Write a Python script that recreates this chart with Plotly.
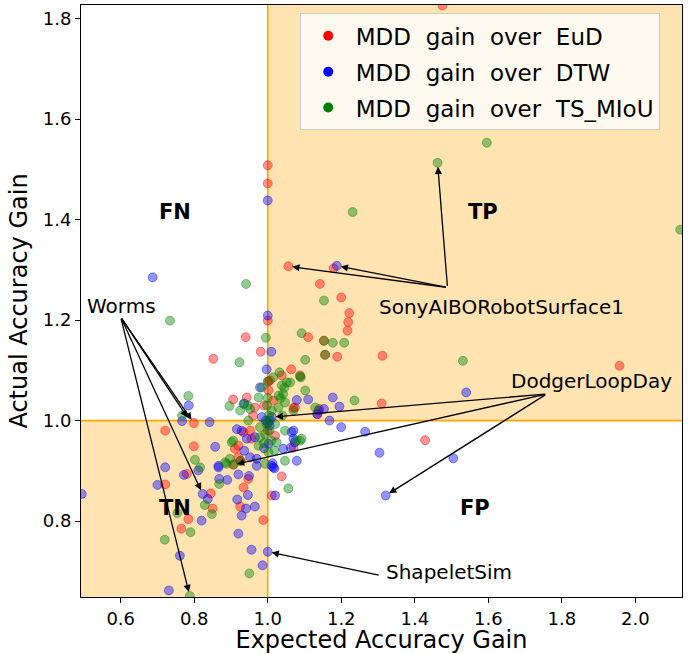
import plotly.graph_objects as go

# ---------------- data ----------------
eud_x = [1.475, 1.0, 1.0, 1.056, 1.179, 1.142, 1.2, 1.222, 1.219, 1.217, 1.110, 1.153, 1.156, 1.189,
         1.312, 1.957, 1.310, 1.140, 1.135, 1.428, 1.0, 0.940, 0.852, 0.981, 1.064, 1.002, 1.070, 0.906,
         0.943, 0.965, 0.960, 1.002, 1.006, 1.038, 1.088, 0.799, 0.721, 0.799, 0.780, 0.721, 0.845, 0.850,
         0.784, 0.765, 0.988, 0.925, 0.934, 0.947, 1.011, 1.038, 1.070, 0.952, 0.934, 0.956, 0.911, 0.920,
         0.926, 0.920, 1.074, 0.990, 1.015, 1.020, 1.000, 0.906]
eud_y = [1.826, 1.508, 1.472, 1.307, 1.303, 1.272, 1.245, 1.214, 1.196, 1.179, 1.166, 1.159, 1.131, 1.127,
         1.129, 1.109, 1.034, 1.023, 1.013, 0.961, 1.199, 1.166, 1.123, 1.137, 1.102, 1.078, 1.025, 1.042,
         1.046, 1.026, 1.010, 1.060, 1.080, 1.090, 1.090, 0.995, 0.980, 0.949, 0.894, 0.873, 0.855, 0.825,
         0.804, 0.785, 0.802, 0.829, 0.867, 0.884, 0.851, 0.889, 0.946, 0.980, 0.977, 0.964, 0.944, 0.927,
         0.920, 0.950, 1.026, 1.030, 1.040, 0.970, 0.980, 0.912]

dtw_x = [1.188, 1.0, 1.0, 0.687, 1.010, 0.997, 0.979, 1.110, 1.079, 1.177, 1.195, 1.153, 1.135, 1.138,
         1.168, 1.200, 1.265, 1.540, 1.304, 1.505, 1.321, 0.785, 0.767, 0.842, 0.857, 0.721, 0.772, 0.700,
         0.494, 0.811, 0.823, 0.837, 0.866, 0.868, 0.890, 0.920, 0.949, 0.946, 0.917, 0.941, 0.965, 0.929,
         0.820, 0.920, 0.956, 1.0, 0.986, 0.761, 0.731, 1.020, 1.015, 1.079, 1.065, 1.070, 1.063, 1.070,
         0.916, 0.929, 0.943, 0.936, 0.952, 0.970, 1.011, 0.970, 0.866, 0.984, 1.006, 0.965, 1.002, 1.042,
         0.990, 1.074, 0.936, 0.995, 1.000, 1.005, 1.011, 1.018, 1.013]
dtw_y = [1.308, 1.438, 1.209, 1.285, 1.137, 1.102, 1.066, 1.042, 1.041, 1.046, 1.028, 1.023, 1.013, 1.020,
         1.000, 0.987, 0.978, 1.056, 0.936, 0.925, 0.851, 1.030, 0.999, 0.997, 0.948, 0.907, 0.892, 0.872,
         0.854, 0.901, 0.854, 0.844, 0.907, 0.884, 0.882, 0.893, 0.890, 0.852, 0.843, 0.825, 0.829, 0.811,
         0.801, 0.775, 0.743, 0.739, 0.712, 0.731, 0.662, 0.851, 0.907, 0.920, 0.977, 0.964, 0.946, 0.980,
         0.983, 0.980, 0.964, 0.940, 0.927, 0.924, 0.910, 0.910, 0.910, 1.007, 1.000, 0.967, 0.954, 0.944,
         0.945, 0.957, 1.034, 1.000, 0.995, 0.990, 1.007, 0.905, 0.915]

tsm_x = [1.462, 1.596, 1.231, 2.122, 0.941, 1.153, 0.734, 1.092, 1.153, 1.177, 1.208, 1.156, 1.102, 1.531,
         1.090, 1.102, 1.236, 0.995, 0.923, 1.032, 1.088, 1.052, 1.0, 0.784, 0.767, 0.896, 0.946, 0.802,
         0.816, 0.829, 0.848, 0.868, 0.790, 0.720, 0.754, 0.788, 0.950, 1.056, 1.047, 1.088, 0.888, 0.975,
         0.984, 1.015, 1.061, 1.038, 1.042, 1.047, 1.029, 1.011, 0.997, 0.979, 0.993, 1.020, 1.047, 1.092,
         0.947, 0.925, 0.902, 0.975, 1.002, 1.024, 1.018, 0.906, 0.897, 0.884, 0.926, 0.979, 1.077, 0.952,
         0.934, 1.129, 1.070, 0.993, 1.000, 1.003, 1.005, 0.998, 1.035, 1.040, 0.908, 1.030, 1.045, 1.010,
         0.990, 1.000]
tsm_y = [1.513, 1.553, 1.415, 1.380, 1.272, 1.239, 1.199, 1.174, 1.159, 1.155, 1.155, 1.131, 1.121, 1.119,
         1.086, 1.060, 1.040, 1.165, 1.116, 1.096, 1.088, 1.076, 1.078, 1.049, 1.010, 1.029, 1.030, 0.922,
         0.907, 0.832, 0.814, 0.874, 0.778, 0.763, 0.816, 0.651, 0.696, 0.865, 0.920, 0.960, 0.914, 1.046,
         1.066, 1.086, 1.076, 1.070, 1.053, 1.036, 1.026, 1.020, 0.993, 0.987, 0.973, 0.993, 0.980, 0.964,
         1.000, 1.020, 0.957, 0.950, 0.937, 0.957, 0.940, 0.960, 0.924, 0.917, 0.920, 0.967, 0.960, 1.023,
         1.033, 1.026, 1.020, 0.914, 1.000, 1.010, 0.980, 1.030, 1.045, 1.010, 0.913, 1.050, 1.065, 0.960,
         0.955, 1.045]

series_names = ["MDD  gain  over  EuD", "MDD  gain  over  DTW", "MDD  gain  over  TS_MIoU"]
series_colors = ["255,0,0", "0,0,255", "0,128,0"]

x_ticks = [0.6, 0.8, 1.0, 1.2, 1.4, 1.6, 1.8, 2.0]
y_ticks = [0.8, 1.0, 1.2, 1.4, 1.6, 1.8]
x_range = [0.492, 2.127]
y_range = [0.649, 1.827]

# annotations: label, text position, arrow base, arrow targets
annot_labels = ["SonyAIBORobotSurface1", "Worms", "DodgerLoopDay", "ShapeletSim"]
annot_text_pos = [(1.637, 1.227), (0.603, 1.229), (1.882, 1.078), (1.493, 0.698)]
annot_base = [(1.489, 1.265), (0.600, 1.206), (1.759, 1.053), (1.306, 0.692)]
annot_targets = [
    [(1.056, 1.307), (1.188, 1.308), (1.462, 1.513)],
    [(0.799, 0.995), (0.787, 1.000), (0.823, 0.854), (0.788, 0.651)],
    [(1.011, 1.007), (0.906, 0.912), (1.321, 0.851)],
    [(1.0, 0.739)],
]
quad_labels = ["FN", "TP", "TN", "FP"]
quad_pos = [(0.748, 1.416), (1.586, 1.416), (0.748, 0.827), (1.565, 0.827)]

FONT = "DejaVu Sans"
fig = go.Figure()

xs = [eud_x, dtw_x, tsm_x]
ys = [eud_y, dtw_y, tsm_y]
for i in range(3):
    fig.add_trace(go.Scatter(
        x=xs[i], y=ys[i], mode="markers", showlegend=False,
        marker=dict(size=9, color=f"rgba({series_colors[i]},0.42)",
                    line=dict(color=f"rgba({series_colors[i]},0.42)", width=1)),
    ))
for i in range(3):
    fig.add_trace(go.Scatter(
        x=[None], y=[None], mode="markers", name=series_names[i], legendgroup=f"g{i}",
        marker=dict(size=10, color=f"rgb({series_colors[i]})"),
    ))

shade = "rgba(255,165,0,0.3)"
fig.add_shape(type="rect", xref="x", yref="y", x0=1.0, x1=x_range[1], y0=1.0, y1=y_range[1],
              fillcolor=shade, line_width=0, layer="below")
fig.add_shape(type="rect", xref="x", yref="y", x0=x_range[0], x1=1.0, y0=y_range[0], y1=1.0,
              fillcolor=shade, line_width=0, layer="below")
fig.add_shape(type="line", xref="x", yref="y", x0=1.0, x1=1.0, y0=y_range[0], y1=y_range[1],
              line=dict(color="orange", width=1.6), layer="below")
fig.add_shape(type="line", xref="x", yref="y", x0=x_range[0], x1=x_range[1], y0=1.0, y1=1.0,
              line=dict(color="orange", width=1.6), layer="below")

for lab, tp, base, tg in zip(annot_labels, annot_text_pos, annot_base, annot_targets):
    for (tx, ty) in tg:
        fig.add_annotation(x=tx, y=ty, ax=base[0], ay=base[1], xref="x", yref="y",
                           axref="x", ayref="y", text="", showarrow=True,
                           arrowhead=2, arrowsize=1.1, arrowwidth=1.3, arrowcolor="black",
                           standoff=4)
    fig.add_annotation(x=tp[0], y=tp[1], xref="x", yref="y", text=lab, showarrow=False,
                       font=dict(family=FONT, size=20, color="black"))

for lab, (qx, qy) in zip(quad_labels, quad_pos):
    fig.add_annotation(x=qx, y=qy, xref="x", yref="y", text=f"<b>{lab}</b>", showarrow=False,
                       font=dict(family=FONT, size=21, color="black"))

fig.update_layout(
    width=697, height=654,
    margin=dict(l=81, r=15, t=5, b=57),
    plot_bgcolor="white", paper_bgcolor="white",
    font=dict(family=FONT, color="black"),
    legend=dict(x=0.364, y=0.986, xanchor="left", yanchor="top",
                bgcolor="rgba(255,255,255,0.8)", bordercolor="#cccccc", borderwidth=1,
                font=dict(family=FONT, size=23), tracegroupgap=3, itemwidth=45),
    xaxis=dict(range=x_range, tickvals=x_ticks, tickformat=".1f", showgrid=False, zeroline=False,
               showline=True, linecolor="black", linewidth=1, mirror=True, ticks="outside",
               ticklen=5, tickcolor="black", tickfont=dict(size=18), automargin=False,
               title=dict(text="Expected Accuracy Gain", font=dict(size=24), standoff=4)),
    yaxis=dict(range=y_range, tickvals=y_ticks, tickformat=".1f", showgrid=False, zeroline=False,
               showline=True, linecolor="black", linewidth=1, mirror=True, ticks="outside",
               ticklen=5, tickcolor="black", tickfont=dict(size=18), automargin=False,
               title=dict(text="Actual Accuracy Gain", font=dict(size=24), standoff=8)),
)

fig.write_html("out.html", config={"displayModeBar": False},
               post_script="document.body.style.margin='0';")
